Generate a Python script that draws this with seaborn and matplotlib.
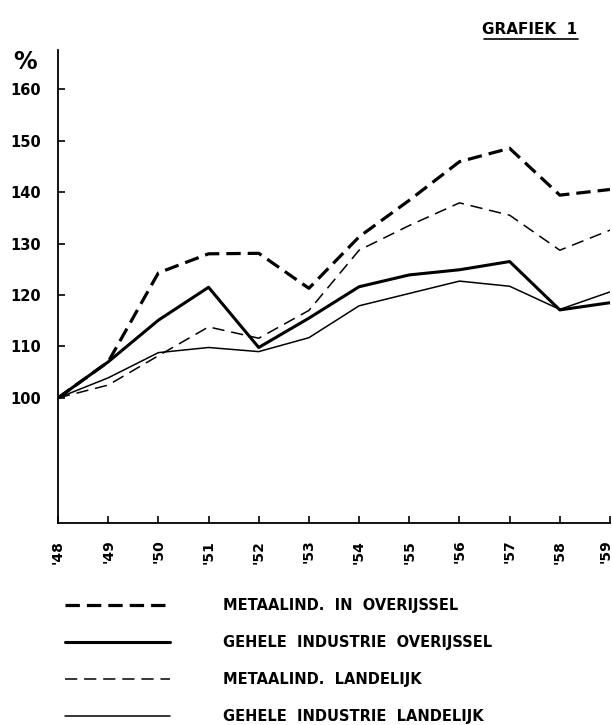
import matplotlib
matplotlib.use("Agg")
import matplotlib.pyplot as plt
import matplotlib.transforms as mtransforms
import seaborn as sns
import pandas as pd

years = [1948, 1949, 1950, 1951, 1952, 1953, 1954, 1955, 1956, 1957, 1958, 1959]
year_labels = ["'48", "'49", "'50", "'51", "'52", "'53", "'54", "'55", "'56", "'57", "'58", "'59"]
metaal_overijssel = [100, 107, 124.3, 128, 128.1, 121.3, 131.3, 138.4, 145.9, 148.5, 139.4, 140.5]
gehele_overijssel = [100, 107, 115.1, 121.5, 109.8, 115.5, 121.6, 123.9, 124.9, 126.5, 117.1, 118.5]
metaal_landelijk = [100, 102.5, 108.2, 113.8, 111.6, 117.0, 128.7, 133.5, 137.9, 135.5, 128.7, 132.6]
gehele_landelijk = [100, 103.9, 108.8, 109.8, 109.0, 111.7, 117.9, 120.3, 122.7, 121.7, 117.2, 120.6]
y_ticks = [100, 110, 120, 130, 140, 150, 160]
series_labels = ["METAALIND.  IN  OVERIJSSEL", "GEHELE  INDUSTRIE  OVERIJSSEL",
                 "METAALIND.  LANDELIJK", "GEHELE  INDUSTRIE  LANDELIJK"]

sns.set_style("white")
plt.rcParams['font.family'] = ['DejaVu Sans']
plt.rcParams['text.color'] = 'black'
plt.rcParams['xtick.color'] = 'black'
plt.rcParams['ytick.color'] = 'black'

fig = plt.figure(figsize=(6.12, 7.25), dpi=100)
ax = fig.add_axes([58/612, 1-523/725, (610-58)/612, (523-50)/725])

styles = [
    (metaal_overijssel, 2.3, (0, (4.5, 2.2))),
    (gehele_overijssel, 2.2, '-'),
    (metaal_landelijk, 1.1, (0, (8, 4.5))),
    (gehele_landelijk, 1.1, '-'),
]
for (vals, lw, ls), lab in zip(styles, series_labels):
    df = pd.DataFrame({"year": years, "value": vals})
    sns.lineplot(data=df, x="year", y="value", ax=ax, color="black",
                 linewidth=lw, linestyle=ls, label=lab)

ax.set_xlim(1948, 1959)
ax.set_ylim(75.7, 167.6)
ax.set_xticks(years)
ax.set_xticklabels(year_labels, rotation=90, fontsize=10, fontweight='bold', color='black')
ax.set_yticks(y_ticks)
ax.set_yticklabels([str(t) for t in y_ticks], fontsize=10.5, fontweight='bold', color='black')
ax.tick_params(axis='both', direction='in', length=5, width=1.2, color='black',
               left=True, bottom=True, pad=12)
last = ax.get_xticklabels()[-1]
last.set_transform(last.get_transform() + mtransforms.ScaledTranslation(-4/100, 0, fig.dpi_scale_trans))
ax.set_xlabel("")
ax.set_ylabel("")
for s in ['top', 'right']:
    ax.spines[s].set_visible(False)
for s in ['left', 'bottom']:
    ax.spines[s].set_color('black')
    ax.spines[s].set_linewidth(1.3)

ax.legend_.remove()
handles, labels = ax.get_legend_handles_labels()
leg = fig.legend(handles, labels, loc='upper left', bbox_to_anchor=(52/612, 1-585/725),
                 frameon=False, handlelength=7.2, handletextpad=3.6,
                 labelspacing=1.5, prop={'size': 10.5, 'weight': 'bold'})
for t in leg.get_texts():
    t.set_color('black')

fig.text(25/612, 1-62/725, "%", fontsize=17, fontweight='bold', ha='center', va='center', color='black')
fig.text(530/612, 1-30/725, "GRAFIEK  1", fontsize=11, fontweight='bold', ha='center', va='center', color='black')
fig.add_artist(plt.Line2D([484/612, 578/612], [1-39/725, 1-39/725], color='black', lw=1.2))

fig.savefig("out.png", dpi=100, facecolor='white')
